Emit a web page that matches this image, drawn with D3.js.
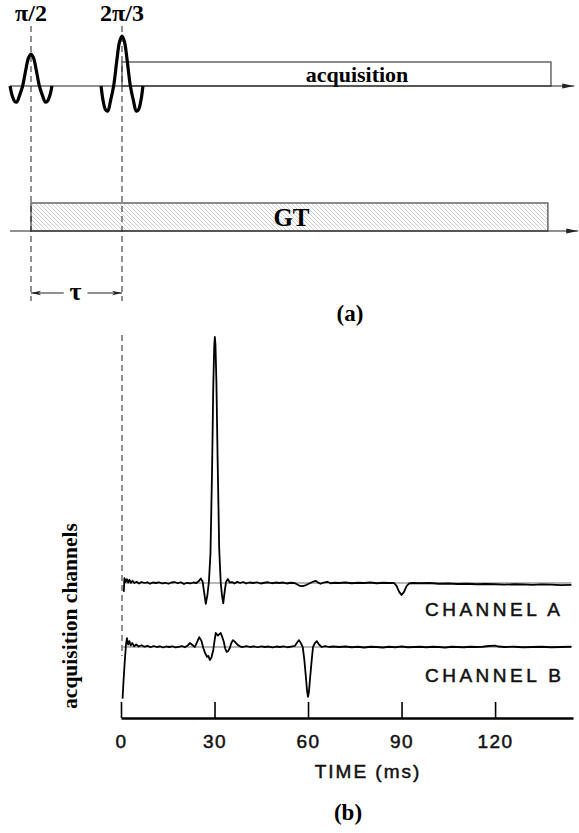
<!DOCTYPE html>
<html>
<head>
<meta charset="utf-8">
<script src="https://cdn.jsdelivr.net/npm/d3@7"></script>
<style>
  html, body { margin: 0; padding: 0; background: #fff; }
  svg { display: block; }
</style>
</head>
<body>
<svg id="chart" width="579" height="833"></svg>
<script>
// ---------- Panel (a): pulse sequence, times in units of tau ----------
const pulseLabels = ["π/2", "2π/3"];
const pulseTimes = [0, 1];
const pulseAmps = [0.64, 1.0];
const pulseHalfWidth = 0.23;
// RF pulse envelope: offset (in half-widths) and normalised amplitude
const pulseShapeU = [-1, -0.9, -0.78, -0.68, -0.55, -0.4, -0.25, -0.12, 0, 0.12, 0.25, 0.4, 0.55, 0.68, 0.78, 0.9, 1];
const pulseShapeV = [0, -0.3, -0.48, -0.5, -0.3, 0, 0.5, 0.88, 1, 0.88, 0.5, 0, -0.3, -0.5, -0.48, -0.3, 0];
const acqWindow = [1.0, 5.714];
const gtWindow = [0, 5.68];
const seqAxisExtent = [-0.23, 5.97];
const acqLabel = "acquisition";
const gtLabel = "GT";
const tauLabel = "τ";

// ---------- Panel (b): acquired signals, time in ms, amplitude in a.u. ----------
const timeTicks = [0, 30, 60, 90, 120];
const timeExtent = [0, 145];
const channelNames = ["CHANNEL A", "CHANNEL B"];
const channelA = [
  [0.9,-3.6],[1.1,2.0],[1.5,0.4],[1.9,1.6],[2.3,0.2],[2.7,1.3],[3.2,0.1],[3.7,0.9],[4.3,0.0],[5.0,0.5],
  [5.8,-0.2],[6.6,0.4],[7.5,0.0],[8.4,0.3],[9.3,-0.3],[10.2,0.2],[11.2,0.0],[12.2,0.3],[13.2,-0.2],[14.2,0.1],
  [15.2,-0.3],[16.2,0.2],[17.2,0.4],[18.2,-0.1],[19.2,0.3],[20.2,-0.4],[21.2,0.1],[22.2,-0.2],[23.2,0.2],[24.2,0.0],
  [25.0,0.8],[25.6,1.8],[26.2,0.5],[26.7,-4.0],[27.2,-8.5],[27.7,-5.0],[28.2,0.5],[28.7,12],[29.2,45],[29.6,80],
  [29.9,96],[30.1,100],[30.3,97],[30.6,82],[31.0,50],[31.5,14],[32.0,0],[32.4,-5],[32.8,-8.3],[33.2,-4],
  [33.7,0.5],[34.3,1.6],[34.9,0.2],[35.6,0.4],[36.4,-0.2],[37.3,0.5],[38.2,0.0],[39.2,0.4],[40.2,-0.2],[41.2,0.2],
  [42.4,0.0],[43.6,0.3],[44.8,-0.2],[46.0,0.1],[47.2,0.3],[48.4,-0.1],[49.6,0.2],[50.8,0.0],[52.0,0.2],[53.2,-0.2],
  [54.4,0.1],[55.6,0.0],[56.6,-0.6],[57.4,-1.2],[58.4,-1.3],[59.4,-0.8],[60.4,-0.2],[61.4,0.4],[62.4,0.9],[63.2,0.2],
  [64.0,-0.3],[65.0,0.2],[66.2,0.5],[67.2,-0.1],[68.5,0.1],[70,0.0],[72,0.2],[74,-0.1],[76,0.1],[78,0.0],
  [80,0.2],[82,-0.1],[84,0.1],[86,0.0],[87.6,0.0],[88.4,-1.2],[89.2,-3.5],[90.0,-4.9],[90.8,-3.6],[91.6,-1.3],
  [92.4,-0.2],[93.5,0.0],[96,-0.1],[99,0.0],[102,-0.3],[105,-0.2],[108,-0.4],[111,-0.3],[114,-0.5],[117,-0.4],
  [120,-0.5],[123,-0.7],[126,-0.5],[129,-0.6],[132,-0.8],[135,-0.6],[138,-0.7],[141,-0.9],[144.5,-0.8]
];
const channelB = [
  [0.5,-21],[0.8,-14],[1.2,-6],[1.6,1.0],[1.9,3.6],[2.3,1.0],[2.7,2.4],[3.1,0.6],[3.6,1.6],[4.2,0.3],
  [4.9,1.0],[5.7,0.2],[6.6,0.7],[7.5,0.1],[8.5,0.5],[9.5,-0.1],[10.5,0.4],[11.5,0.0],[12.5,0.3],[13.5,-0.2],
  [14.5,0.2],[15.5,0.0],[16.5,0.3],[17.5,-0.2],[18.5,0.1],[19.5,0.4],[20.5,-0.1],[21.3,0.5],[22.1,1.6],[22.9,0.8],
  [23.7,0.0],[24.4,2.0],[25.1,4.0],[25.8,2.5],[26.4,-0.4],[27.0,-2.5],[27.6,-4.0],[28.0,-3.6],[28.5,-5.3],[29.0,-4.4],
  [29.6,-1.2],[30.0,2.5],[30.4,5.7],[30.8,5.0],[31.1,4.6],[31.5,5.2],[32.0,5.7],[32.5,4.0],[33.0,2.0],[33.4,-0.5],
  [33.9,-2.0],[34.4,-1.6],[34.9,-0.4],[35.4,1.6],[35.9,2.8],[36.5,2.2],[37.5,0.8],[38.3,0.2],[39.1,0.0],[40.2,0.4],
  [41.4,0.0],[42.6,0.3],[43.8,-0.1],[45,0.3],[46.2,0.0],[47.4,0.2],[48.6,-0.2],[49.8,0.2],[51,0.0],[52.2,0.3],
  [53.4,-0.1],[54.6,0.2],[55.8,0.5],[56.5,1.8],[57.1,2.8],[57.7,1.6],[58.3,0.0],[58.8,-5],[59.3,-12],[59.7,-18],
  [60.0,-20.3],[60.3,-18],[60.7,-12],[61.2,-5],[61.6,0.0],[62.2,1.6],[62.8,2.4],[63.5,1.0],[64.4,0.0],[65.5,0.4],
  [66.8,0.0],[68,0.2],[70,0.0],[72,0.2],[74,-0.1],[76,0.1],[78,-0.2],[80,0.1],[82,0.0],[84,-0.2],
  [86,0.1],[88,-0.1],[90,0.2],[92,-0.1],[94,0.0],[96,0.1],[98,-0.1],[100,0.1],[102,0.0],[104,-0.2],
  [106,0.1],[108,0.0],[110,-0.1],[112,0.1],[114,0.0],[116,0.1],[118,0.4],[120,0.6],[121,0.2],[123,0.0],
  [126,0.1],[129,-0.1],[132,0.0],[135,0.1],[138,-0.1],[141,0.0],[144.5,0.1]
];
const panelLabels = ["(a)", "(b)"];
const timeTitle = "TIME (ms)";
const yTitle = "acquisition channels";

// ---------- drawing ----------
const svg = d3.select("#chart");
const serif = "'Liberation Serif', 'Times New Roman', 'DejaVu Serif', serif";
const sans = "'Liberation Sans', Arial, Helvetica, sans-serif";

const defs = svg.append("defs");
defs.append("marker")
  .attr("id", "axisArrow").attr("viewBox", "0 0 12 6")
  .attr("refX", 12).attr("refY", 3)
  .attr("markerWidth", 12).attr("markerHeight", 6)
  .attr("markerUnits", "userSpaceOnUse").attr("orient", "auto")
  .append("path").attr("d", "M0,0.5 L12,3 L0,5.5 Z").attr("fill", "#222");
defs.append("marker")
  .attr("id", "tauArrow").attr("viewBox", "0 0 10 6")
  .attr("refX", 10).attr("refY", 3)
  .attr("markerWidth", 10).attr("markerHeight", 6)
  .attr("markerUnits", "userSpaceOnUse").attr("orient", "auto-start-reverse")
  .append("path").attr("d", "M0,0.8 L10,3 L0,5.2 L2.5,3 Z").attr("fill", "#222");
const hatch = defs.append("pattern")
  .attr("id", "hatch").attr("patternUnits", "userSpaceOnUse")
  .attr("width", 4).attr("height", 4);
hatch.append("path")
  .attr("d", "M-1,3 L1,5 M-1,-1 L5,5 M3,-1 L5,1")
  .attr("stroke", "#c4c4c4").attr("stroke-width", 0.8);

// Panel (a) scales
const seqX = d3.scaleLinear().domain([0, 1]).range([31, 122]);
const rfBase = 86, gtBase = 231;
const pulseY = d3.scaleLinear().domain([0, 1]).range([rfBase, 36]);

// Acquisition window on the RF line
svg.append("rect")
  .attr("x", seqX(acqWindow[0])).attr("y", 62)
  .attr("width", seqX(acqWindow[1]) - seqX(acqWindow[0])).attr("height", rfBase - 62)
  .attr("fill", "#fff").attr("stroke", "#666").attr("stroke-width", 1.5);
svg.append("text")
  .attr("x", 357).attr("y", 82)
  .attr("text-anchor", "middle")
  .attr("font-family", serif).attr("font-weight", "bold").attr("font-size", 22)
  .text(acqLabel);

// GT window on the second line
svg.append("rect")
  .attr("x", seqX(gtWindow[0])).attr("y", 203)
  .attr("width", seqX(gtWindow[1]) - seqX(gtWindow[0])).attr("height", gtBase - 203)
  .attr("fill", "url(#hatch)").attr("stroke", "#666").attr("stroke-width", 1.5);
svg.append("text")
  .attr("x", (seqX(gtWindow[0]) + seqX(gtWindow[1])) / 2 + 2).attr("y", 226)
  .attr("text-anchor", "middle")
  .attr("font-family", serif).attr("font-weight", "bold").attr("font-size", 25)
  .text(gtLabel);

// Time axes with arrows
[rfBase, gtBase].forEach((y, i) => {
  svg.append("line")
    .attr("x1", seqX(seqAxisExtent[0])).attr("x2", seqX(seqAxisExtent[1]) + (i ? 4 : 0))
    .attr("y1", y).attr("y2", y)
    .attr("stroke", "#222").attr("stroke-width", 1.2)
    .attr("marker-end", "url(#axisArrow)");
});

// Dashed timing guides at each pulse
pulseTimes.forEach(t => {
  svg.append("line")
    .attr("x1", seqX(t)).attr("x2", seqX(t))
    .attr("y1", 26).attr("y2", 301)
    .attr("stroke", "#222").attr("stroke-width", 1)
    .attr("stroke-dasharray", "6,4");
});

// RF pulses
const pulseLine = d3.line().curve(d3.curveCatmullRom.alpha(0.5));
pulseTimes.forEach((t, i) => {
  const pts = pulseShapeU.map((u, k) => [
    seqX(t + u * pulseHalfWidth),
    pulseY(pulseAmps[i] * pulseShapeV[k])
  ]);
  svg.append("path")
    .attr("d", pulseLine(pts))
    .attr("fill", "none").attr("stroke", "#000")
    .attr("stroke-width", 3.2).attr("stroke-linejoin", "round");
  svg.append("text")
    .attr("x", seqX(t)).attr("y", 21)
    .attr("text-anchor", "middle")
    .attr("font-family", serif).attr("font-weight", "bold").attr("font-size", 24)
    .text(pulseLabels[i]);
});

// tau interval
const tauY = 293;
svg.append("line")
  .attr("x1", seqX(0.36)).attr("x2", seqX(0)).attr("y1", tauY).attr("y2", tauY)
  .attr("stroke", "#222").attr("stroke-width", 1.2).attr("marker-end", "url(#tauArrow)");
svg.append("line")
  .attr("x1", seqX(0.62)).attr("x2", seqX(1)).attr("y1", tauY).attr("y2", tauY)
  .attr("stroke", "#222").attr("stroke-width", 1.2).attr("marker-end", "url(#tauArrow)");
svg.append("text")
  .attr("x", seqX(0.49)).attr("y", tauY + 7)
  .attr("text-anchor", "middle")
  .attr("font-family", serif).attr("font-weight", "bold").attr("font-size", 26)
  .text(tauLabel);

svg.append("text")
  .attr("x", 350).attr("y", 321)
  .attr("text-anchor", "middle")
  .attr("font-family", serif).attr("font-weight", "bold").attr("font-size", 23)
  .text(panelLabels[0]);

// Panel (b) scales
const timeX = d3.scaleLinear().domain(timeExtent).range([121, 573]);
const axisY = 718;
const yA = d3.scaleLinear().domain([0, 100]).range([583, 337]);
const yB = d3.scaleLinear().domain([0, 100]).range([647, 401]);

// Dashed start-of-acquisition guide
svg.append("line")
  .attr("x1", timeX(0) + 1).attr("x2", timeX(0) + 1)
  .attr("y1", 335).attr("y2", 656)
  .attr("stroke", "#222").attr("stroke-width", 1)
  .attr("stroke-dasharray", "6,4");

// Reference baselines and traces
[[channelA, yA], [channelB, yB]].forEach(([data, ys]) => {
  svg.append("line")
    .attr("x1", timeX(data[0][0])).attr("x2", timeX(data[data.length - 1][0]))
    .attr("y1", ys(0)).attr("y2", ys(0))
    .attr("stroke", "#333").attr("stroke-width", 0.7);
  const line = d3.line().x(d => timeX(d[0])).y(d => ys(d[1]));
  svg.append("path")
    .attr("d", line(data))
    .attr("fill", "none").attr("stroke", "#000")
    .attr("stroke-width", 1.8).attr("stroke-linejoin", "round");
});

// Channel names
[[channelNames[0], 616], [channelNames[1], 682]].forEach(([name, y]) => {
  svg.append("text")
    .attr("x", 425).attr("y", y)
    .attr("font-family", sans).attr("font-size", 19)
    .attr("letter-spacing", 3.5)
    .attr("fill", "#111").attr("stroke", "#111").attr("stroke-width", 0.5)
    .text(name);
});

// Time axis with upward ticks
const xAxis = d3.axisBottom(timeX)
  .tickValues(timeTicks)
  .tickSizeInner(-16).tickSizeOuter(0)
  .tickPadding(17)
  .tickFormat(d3.format("d"));
const gAxis = svg.append("g").attr("transform", `translate(0,${axisY})`).call(xAxis);
gAxis.select(".domain").attr("stroke", "#000").attr("stroke-width", 2.4);
gAxis.selectAll(".tick line").attr("stroke", "#000").attr("stroke-width", 1.6);
gAxis.selectAll(".tick text")
  .attr("font-family", sans).attr("font-size", 19).attr("fill", "#111")
  .attr("stroke", "#111").attr("stroke-width", 0.5)
  .attr("letter-spacing", 1.5);

svg.append("text")
  .attr("x", 368).attr("y", 778)
  .attr("text-anchor", "middle")
  .attr("font-family", sans).attr("font-size", 19)
  .attr("letter-spacing", 2)
  .attr("fill", "#111").attr("stroke", "#111").attr("stroke-width", 0.5)
  .text(timeTitle);

svg.append("text")
  .attr("transform", "translate(77,616) rotate(-90)")
  .attr("text-anchor", "middle")
  .attr("font-family", serif).attr("font-weight", "bold").attr("font-size", 21.5)
  .text(yTitle);

svg.append("text")
  .attr("x", 348).attr("y", 820)
  .attr("text-anchor", "middle")
  .attr("font-family", serif).attr("font-weight", "bold").attr("font-size", 23)
  .text(panelLabels[1]);
</script>
</body>
</html>
